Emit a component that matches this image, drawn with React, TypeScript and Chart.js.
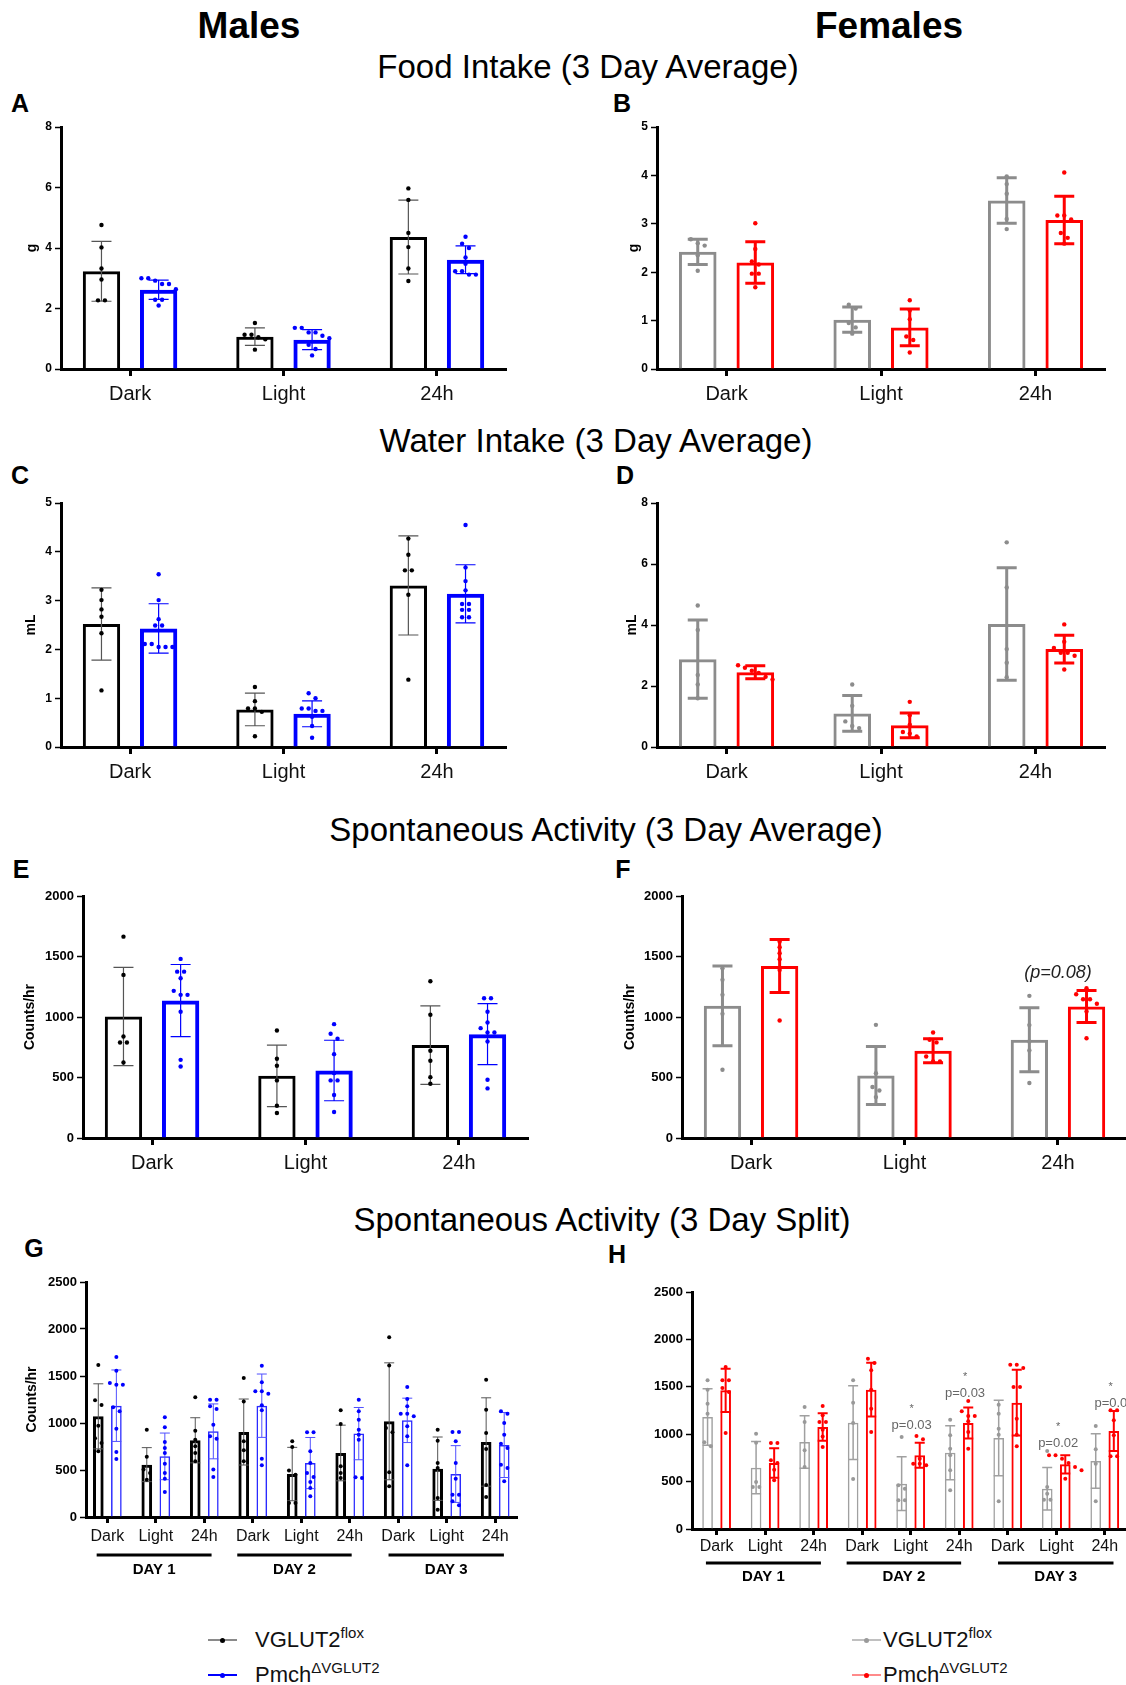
import React, { useEffect, useRef } from "react";
import { Chart, registerables } from "chart.js";
Chart.register(...registerables);

const FONT = "'Liberation Sans', Arial, sans-serif";
Chart.defaults.font.family = FONT;
Chart.defaults.color = "#000";

// ---------- categories ----------
const avgCategories = ["Dark", "Light", "24h"];
const splitCategories = ["Dark", "Light", "24h", "Dark", "Light", "24h", "Dark", "Light", "24h"];
const dayLabels = ["DAY 1", "DAY 2", "DAY 3"];

// ---------- A: food intake, males (g) ----------
const foodMaleFloxMean = [3.23, 1.07, 4.36];
const foodMaleFloxSD = [0.99, 0.29, 1.22];
const foodMaleFloxPoints = [
  [4.76, 4.02, 3.32, 2.96, 2.27, 2.27],
  [1.52, 1.13, 1.13, 1.05, 0.98, 0.64],
  [5.97, 5.59, 4.5, 4.03, 3.32, 2.91],
];
const foodMaleKoMean = [2.62, 0.97, 3.61];
const foodMaleKoSD = [0.32, 0.33, 0.46];
const foodMaleKoPoints = [
  [3.0, 3.0, 2.92, 2.81, 2.81, 2.64, 2.29, 2.29, 2.1],
  [1.36, 1.36, 1.21, 1.21, 1.1, 1.02, 0.8, 0.66, 0.45],
  [4.37, 4.14, 4.0, 3.69, 3.48, 3.23, 3.23, 3.12, 3.12],
];

// ---------- B: food intake, females (g) ----------
const foodFemFloxMean = [2.42, 1.02, 3.48];
const foodFemFloxSD = [0.26, 0.26, 0.47];
const foodFemFloxPoints = [
  [2.68, 2.6, 2.55, 2.35, 2.03],
  [1.33, 1.25, 0.95, 0.86, 0.73],
  [3.98, 3.82, 3.62, 3.1, 2.89],
];
const foodFemKoMean = [2.2, 0.86, 3.08];
const foodFemKoSD = [0.43, 0.38, 0.49];
const foodFemKoPoints = [
  [3.01, 2.48, 2.22, 2.16, 1.97, 1.97, 1.69],
  [1.42, 1.21, 1.03, 0.67, 0.6, 0.34],
  [4.06, 3.17, 3.17, 3.09, 2.81, 2.71, 2.59],
];

// ---------- C: water intake, males (mL) ----------
const waterMaleFloxMean = [2.52, 0.77, 3.31];
const waterMaleFloxSD = [0.74, 0.335, 1.015];
const waterMaleFloxPoints = [
  [3.22, 3.01, 2.82, 2.67, 2.33, 1.16],
  [1.23, 0.94, 0.79, 0.79, 0.72, 0.22],
  [4.27, 3.94, 3.62, 3.62, 3.12, 1.38],
];
const waterMaleKoMean = [2.43, 0.68, 3.14];
const waterMaleKoSD = [0.505, 0.265, 0.595];
const waterMaleKoPoints = [
  [3.54, 3.01, 2.62, 2.49, 2.49, 2.11, 2.11, 2.05, 2.05, 2.05],
  [1.1, 1.0, 0.79, 0.79, 0.74, 0.74, 0.62, 0.43, 0.19],
  [4.55, 3.68, 3.4, 3.21, 2.93, 2.93, 2.81, 2.81, 2.66, 2.66],
];

// ---------- D: water intake, females (mL) ----------
const waterFemFloxMean = [2.88, 1.1, 4.03];
const waterFemFloxSD = [1.285, 0.585, 1.845];
const waterFemFloxPoints = [
  [4.64, 3.84, 2.36, 2.05, 1.6],
  [2.05, 1.35, 0.84, 0.69, 0.62],
  [6.71, 5.23, 3.21, 2.76, 2.29],
];
const waterFemKoMean = [2.45, 0.71, 3.21];
const waterFemKoSD = [0.215, 0.405, 0.455];
const waterFemKoPoints = [
  [2.68, 2.6, 2.5, 2.43, 2.3, 2.21],
  [1.48, 1.04, 0.73, 0.49, 0.44, 0.35],
  [4.02, 3.45, 3.25, 3.09, 3.09, 2.99, 2.54],
];

// ---------- E: activity avg, males (counts/hr) ----------
const actMaleFloxMean = [1004, 514, 768];
const actMaleFloxSD = [406, 254, 324];
const actMaleFloxPoints = [
  [1664, 1348, 839, 789, 789, 624],
  [889, 655, 597, 476, 267, 206],
  [1296, 1018, 721, 638, 503, 448],
];
const actMaleKoMean = [1136, 558, 858];
const actMaleKoSD = [298, 250, 252];
const actMaleKoPoints = [
  [1480, 1375, 1375, 1320, 1216, 1183, 1183, 1043, 646, 591],
  [941, 861, 820, 693, 536, 476, 476, 355, 215],
  [1155, 1155, 1043, 955, 908, 872, 872, 798, 481, 410],
];

// ---------- F: activity avg, females ----------
const actFemFloxMean = [1092, 517, 812];
const actFemFloxSD = [330, 240, 264];
const actFemFloxPoints = [
  [1403, 1307, 1183, 1026, 564],
  [935, 536, 421, 393, 338],
  [1175, 933, 798, 724, 454],
];
const actFemKoMean = [1422, 721, 1087];
const actFemKoSD = [219, 99, 132];
const actFemKoPoints = [
  [1623, 1576, 1527, 1477, 1389, 971],
  [872, 812, 790, 674, 633, 633],
  [1238, 1188, 1147, 1147, 1109, 1045, 825],
];

// ---------- G: activity split, males ----------
const splitMaleFloxMean = [1071, 557, 816, 904, 457, 681, 1018, 514, 798];
const splitMaleFloxSD = [346, 181, 240, 351, 284, 296, 622, 337, 470];
const splitMaleFloxPoints = [
  [1617, 1241, 1191, 972, 837, 787, 699],
  [929, 642, 504, 468, 397],
  [1273, 918, 823, 752, 681, 592],
  [1479, 1230, 805, 709, 592],
  [805, 745, 496, 450, 149, 149],
  [1135, 989, 539, 468, 415],
  [1911, 1613, 947, 901, 475, 326],
  [929, 812, 574, 521, 202, 78],
  [1461, 1142, 894, 723, 340, 213],
];
const splitMaleKoMean = [1184, 645, 911, 1184, 574, 887, 1028, 457, 766];
const splitMaleKoSD = [380, 248, 292, 337, 272, 278, 236, 302, 346];
const splitMaleKoPoints = [
  [1702, 1557, 1425, 1408, 1408, 1167, 1124, 940, 691, 617],
  [1060, 954, 798, 734, 681, 567, 468, 408, 266],
  [1248, 1248, 1177, 1149, 982, 858, 833, 504, 426],
  [1610, 1433, 1337, 1337, 1312, 1190, 1135, 621, 550],
  [901, 901, 700, 574, 468, 426, 372, 308, 220],
  [1248, 1124, 1035, 929, 876, 823, 422, 415],
  [1383, 1255, 1177, 1099, 1099, 1071, 965, 858, 550],
  [904, 904, 805, 574, 408, 238, 238, 167, 124],
  [1124, 1099, 1000, 876, 780, 734, 557, 521, 379],
];

// ---------- H: activity split, females ----------
const splitFemFloxMean = [1181, 647, 918, 1122, 478, 805, 960, 425, 717];
const splitFemFloxSD = [298, 276, 276, 390, 283, 285, 398, 224, 288];
const splitFemFloxPoints = [
  [1568, 1470, 1322, 1217, 914, 872],
  [1006, 911, 496, 443, 443],
  [1287, 1129, 830, 654],
  [1568, 1333, 1118, 527],
  [970, 461, 425, 302, 302],
  [1153, 988, 847, 777, 619, 408],
  [1311, 1217, 1058, 995, 292],
  [823, 443, 373, 309, 309],
  [1086, 840, 689, 292],
];
const splitFemKoMean = [1463, 696, 1076, 1470, 777, 1118, 1333, 682, 1034];
const splitFemKoSD = [228, 156, 144, 284, 132, 164, 346, 96, 211];
const splitFemKoPoints = [
  [1709, 1568, 1568, 1487, 1445, 1013],
  [907, 907, 724, 696, 626, 513],
  [1297, 1199, 1129, 1129, 1048, 977, 865],
  [1797, 1751, 1674, 1470, 1269, 1023],
  [981, 946, 742, 689, 689, 672],
  [1350, 1241, 1192, 1192, 1136, 1023, 847],
  [1733, 1733, 1698, 1498, 1498, 1164, 995, 872],
  [777, 777, 742, 696, 654, 619, 531],
  [1252, 1252, 1146, 988, 767, 767],
];

// annotations (category index, value at which text sits, text)
const fAnnotations = [{ cat: 2, value: 1367, text: "(p=0.08)", italic: true, size: 18, color: "#222", dx: 0 }];
const hAnnotations = [
  { cat: 4, value: 1263, text: "*", size: 11, color: "#666", dx: 0.02 },
  { cat: 4, value: 1094, text: "p=0.03", size: 13, color: "#666", dx: 0.02 },
  { cat: 5, value: 1600, text: "*", size: 11, color: "#666", dx: 0.12 },
  { cat: 5, value: 1432, text: "p=0.03", size: 13, color: "#666", dx: 0.12 },
  { cat: 7, value: 1073, text: "*", size: 11, color: "#666", dx: 0.04 },
  { cat: 7, value: 904, text: "p=0.02", size: 13, color: "#666", dx: 0.04 },
  { cat: 8, value: 1495, text: "*", size: 11, color: "#666", dx: 0.12 },
  { cat: 8, value: 1326, text: "p=0.01", size: 13, color: "#666", dx: 0.2 },
];
const daySpans = [
  [-0.22, 2.15],
  [2.68, 5.04],
  [5.8, 8.18],
];

// ---------- styles ----------
type Style = { border: string; bw: number; err: string; ew: number; cap: number; pt: string; r: number };
const maleCtrlAvg: Style = { border: "#000", bw: 3, err: "#555", ew: 1.2, cap: 10, pt: "#000", r: 2.2 };
const maleKoAvg: Style = { border: "#0000ff", bw: 4, err: "#0000ff", ew: 1.2, cap: 10, pt: "#0000ff", r: 2.2 };
const femCtrlAvg: Style = { border: "#8c8c8c", bw: 3, err: "#8c8c8c", ew: 3, cap: 10, pt: "#8c8c8c", r: 2.2 };
const femKoAvg: Style = { border: "#ff0000", bw: 3, err: "#ff0000", ew: 3, cap: 10, pt: "#ff0000", r: 2.2 };
const maleCtrlSplit: Style = { border: "#000", bw: 3, err: "#555", ew: 1, cap: 5, pt: "#000", r: 2 };
const maleKoSplit: Style = { border: "#2a2aff", bw: 1.5, err: "#5050ff", ew: 1, cap: 5, pt: "#0000ff", r: 2 };
const femCtrlSplit: Style = { border: "#a0a0a0", bw: 1.5, err: "#a0a0a0", ew: 1.5, cap: 5, pt: "#999", r: 2 };
const femKoSplit: Style = { border: "#ff0000", bw: 2, err: "#ff0000", ew: 2, cap: 5, pt: "#ff0000", r: 2 };

type Series = { mean: number[]; sd: number[]; points: number[][]; style: Style };
type Panel = {
  axisX: number; right: number; top: number; bottom: number;
  yMax: number; yStep: number; yTitle?: string; titleX?: number; yW: number; xH: number;
  categories: string[]; xMin: number; xMax: number; catPct: number; barPct: number;
  xFont: number; xPad: number; xTickLen: number; yFont: number;
  series: Series[];
  days?: boolean; dayLineOff?: number; dayLabelOff?: number;
  annotations?: any[];
};

const PAD_T = 12;
const PAD_R = 10;

const avgBase = { yW: 60, xH: 45, xMin: -0.45, xMax: 2.45, catPct: 0.745, barPct: 0.653, xFont: 20, xPad: 6, xTickLen: 7, yFont: 12 };
const splitBase = { yW: 75, xH: 75, catPct: 0.745, barPct: 0.59, xFont: 16, xTickLen: 6, yFont: 13, days: true };

const panels: Record<string, Panel> = {
  A: { ...avgBase, axisX: 61, right: 506, top: 127, bottom: 369, yMax: 8, yStep: 2, yTitle: "g", titleX: 32, categories: avgCategories,
    series: [
      { mean: foodMaleFloxMean, sd: foodMaleFloxSD, points: foodMaleFloxPoints, style: maleCtrlAvg },
      { mean: foodMaleKoMean, sd: foodMaleKoSD, points: foodMaleKoPoints, style: maleKoAvg },
    ] },
  B: { ...avgBase, axisX: 657, right: 1105, top: 127, bottom: 369, yMax: 5, yStep: 1, yTitle: "g", titleX: 634, categories: avgCategories,
    series: [
      { mean: foodFemFloxMean, sd: foodFemFloxSD, points: foodFemFloxPoints, style: femCtrlAvg },
      { mean: foodFemKoMean, sd: foodFemKoSD, points: foodFemKoPoints, style: femKoAvg },
    ] },
  C: { ...avgBase, axisX: 61, right: 506, top: 503, bottom: 747, yMax: 5, yStep: 1, yTitle: "mL", titleX: 31, categories: avgCategories,
    series: [
      { mean: waterMaleFloxMean, sd: waterMaleFloxSD, points: waterMaleFloxPoints, style: maleCtrlAvg },
      { mean: waterMaleKoMean, sd: waterMaleKoSD, points: waterMaleKoPoints, style: maleKoAvg },
    ] },
  D: { ...avgBase, axisX: 657, right: 1105, top: 503, bottom: 747, yMax: 8, yStep: 2, yTitle: "mL", titleX: 632, categories: avgCategories,
    series: [
      { mean: waterFemFloxMean, sd: waterFemFloxSD, points: waterFemFloxPoints, style: femCtrlAvg },
      { mean: waterFemKoMean, sd: waterFemKoSD, points: waterFemKoPoints, style: femKoAvg },
    ] },
  E: { ...avgBase, yW: 75, yFont: 13, axisX: 83, right: 528, top: 896, bottom: 1138, yMax: 2000, yStep: 500, yTitle: "Counts/hr", titleX: 30, categories: avgCategories,
    series: [
      { mean: actMaleFloxMean, sd: actMaleFloxSD, points: actMaleFloxPoints, style: maleCtrlAvg },
      { mean: actMaleKoMean, sd: actMaleKoSD, points: actMaleKoPoints, style: maleKoAvg },
    ] },
  F: { ...avgBase, yW: 75, yFont: 13, axisX: 682, right: 1127, top: 896, bottom: 1138, yMax: 2000, yStep: 500, yTitle: "Counts/hr", titleX: 630, categories: avgCategories,
    annotations: fAnnotations,
    series: [
      { mean: actFemFloxMean, sd: actFemFloxSD, points: actFemFloxPoints, style: femCtrlAvg },
      { mean: actFemKoMean, sd: actFemKoSD, points: actFemKoPoints, style: femKoAvg },
    ] },
  G: { ...splitBase, axisX: 86, right: 517, top: 1282, bottom: 1517, yMax: 2500, yStep: 500, yTitle: "Counts/hr", titleX: 32,
    categories: splitCategories, xMin: -0.44, xMax: 8.45, xPad: 4, dayLineOff: 38, dayLabelOff: 53,
    series: [
      { mean: splitMaleFloxMean, sd: splitMaleFloxSD, points: splitMaleFloxPoints, style: maleCtrlSplit },
      { mean: splitMaleKoMean, sd: splitMaleKoSD, points: splitMaleKoPoints, style: maleKoSplit },
    ] },
  H: { ...splitBase, axisX: 692, right: 1130, top: 1292, bottom: 1529, yMax: 2500, yStep: 500,
    categories: splitCategories, xMin: -0.507, xMax: 8.52, xPad: 2, dayLineOff: 34, dayLabelOff: 48,
    annotations: hAnnotations,
    series: [
      { mean: splitFemFloxMean, sd: splitFemFloxSD, points: splitFemFloxPoints, style: femCtrlSplit },
      { mean: splitFemKoMean, sd: splitFemKoSD, points: splitFemKoPoints, style: femKoSplit },
    ] },
};

function geom(p: Panel) {
  const left = p.axisX - p.yW;
  const top = p.top - PAD_T;
  const w = p.right + PAD_R - left;
  const h = PAD_T + (p.bottom - p.top) + p.xH;
  return { left, top, w, h };
}

function overlayPlugin(p: Panel) {
  return {
    id: "overlay",
    afterDatasetsDraw(chart: any) {
      const ctx = chart.ctx;
      const ys = chart.scales.y;
      p.series.forEach((s, di) => {
        const meta = chart.getDatasetMeta(di);
        meta.data.forEach((bar: any, j: number) => {
          const bx = bar.x;
          const st = s.style;
          const yt = ys.getPixelForValue(s.mean[j] + s.sd[j]);
          const yb = ys.getPixelForValue(Math.max(0, s.mean[j] - s.sd[j]));
          ctx.save();
          ctx.strokeStyle = st.err;
          ctx.lineWidth = st.ew;
          ctx.beginPath();
          ctx.moveTo(bx, yt);
          ctx.lineTo(bx, yb);
          ctx.moveTo(bx - st.cap, yt);
          ctx.lineTo(bx + st.cap, yt);
          ctx.moveTo(bx - st.cap, yb);
          ctx.lineTo(bx + st.cap, yb);
          ctx.stroke();
          // points, spread sideways when they overlap
          const pts = (s.points[j] || []).map((v) => ys.getPixelForValue(v)).sort((a: number, b: number) => a - b);
          const thr = st.r * 2 + 0.8;
          const sep = st.r * 2 + 2.5;
          let cluster: number[] = [];
          const flush = () => {
            const n = cluster.length;
            cluster.forEach((py, k) => {
              const px = bx + (k - (n - 1) / 2) * sep;
              ctx.fillStyle = st.pt;
              ctx.beginPath();
              ctx.arc(px, py, st.r, 0, Math.PI * 2);
              ctx.fill();
            });
            cluster = [];
          };
          pts.forEach((py: number) => {
            if (cluster.length && py - cluster[cluster.length - 1] > thr) flush();
            cluster.push(py);
          });
          flush();
          ctx.restore();
        });
      });
    },
    afterDraw(chart: any) {
      const ctx = chart.ctx;
      const xs = chart.scales.x;
      const ys = chart.scales.y;
      const base = chart.chartArea.bottom;
      ctx.save();
      if (p.days) {
        daySpans.forEach((d, i) => {
          const x1 = xs.getPixelForValue(d[0]);
          const x2 = xs.getPixelForValue(d[1]);
          ctx.strokeStyle = "#000";
          ctx.lineWidth = 3;
          ctx.beginPath();
          ctx.moveTo(x1, base + (p.dayLineOff || 0));
          ctx.lineTo(x2, base + (p.dayLineOff || 0));
          ctx.stroke();
          ctx.fillStyle = "#000";
          ctx.font = `bold 15px ${FONT}`;
          ctx.textAlign = "center";
          ctx.textBaseline = "middle";
          ctx.fillText(dayLabels[i], (x1 + x2) / 2, base + (p.dayLabelOff || 0));
        });
      }
      (p.annotations || []).forEach((a: any) => {
        ctx.fillStyle = a.color;
        ctx.font = `${a.italic ? "italic " : ""}${a.size}px ${FONT}`;
        ctx.textAlign = "center";
        ctx.textBaseline = "middle";
        ctx.fillText(a.text, xs.getPixelForValue(a.cat + a.dx), ys.getPixelForValue(a.value));
      });
      ctx.restore();
    },
  };
}

function PanelChart({ p }: { p: Panel }) {
  const ref = useRef<HTMLCanvasElement>(null);
  const g = geom(p);
  useEffect(() => {
    const titleFont = 14;
    const pt = p.titleX !== undefined ? p.titleX - g.left - (titleFont * 1.2) / 2 : 0;
    const chart = new Chart(ref.current as HTMLCanvasElement, {
      type: "bar",
      data: {
        datasets: p.series.map((s) => ({
          data: s.mean.map((m, i) => ({ x: i, y: m })),
          backgroundColor: "rgba(0,0,0,0)",
          borderColor: s.style.border,
          borderWidth: s.style.bw,
          categoryPercentage: p.catPct,
          barPercentage: p.barPct,
        })),
      } as any,
      options: {
        responsive: false,
        animation: false,
        devicePixelRatio: 1,
        events: [],
        layout: { padding: { left: 0, top: PAD_T, right: PAD_R, bottom: 0 } },
        plugins: { legend: { display: false }, tooltip: { enabled: false }, title: { display: false } },
        scales: {
          x: {
            type: "linear",
            bounds: "data",
            min: p.xMin,
            max: p.xMax,
            offset: false,
            afterBuildTicks: (axis: any) => {
              axis.ticks = p.categories.map((_, i) => ({ value: i }));
            },
            afterFit: (axis: any) => {
              axis.height = p.xH;
            },
            grid: { display: true, offset: false, drawOnChartArea: false, drawTicks: true, tickLength: p.xTickLen, tickWidth: 3, tickColor: "#000", color: "#000" },
            border: { display: true, color: "#000", width: 3 },
            ticks: {
              autoSkip: false,
              maxRotation: 0,
              minRotation: 0,
              padding: p.xPad,
              color: "#111",
              font: { size: p.xFont },
              callback: (v: any) => p.categories[Math.round(Number(v))] ?? "",
            },
          },
          y: {
            type: "linear",
            min: 0,
            max: p.yMax,
            afterFit: (axis: any) => {
              axis.width = p.yW;
            },
            grid: { display: true, drawOnChartArea: false, drawTicks: true, tickLength: 6, tickWidth: 1.5, tickColor: "#000", color: "#000" },
            border: { display: true, color: "#000", width: 3 },
            ticks: {
              stepSize: p.yStep,
              padding: 3,
              color: "#000",
              font: { size: p.yFont, weight: "bold" },
              callback: (v: any) => String(v),
            },
            title: p.yTitle
              ? { display: true, text: p.yTitle, color: "#000", font: { size: titleFont, weight: "bold" }, padding: { top: pt, bottom: 0 } }
              : { display: false },
          },
        },
      } as any,
      plugins: [overlayPlugin(p)] as any,
    });
    return () => chart.destroy();
  }, []);
  return (
    <canvas
      ref={ref}
      width={g.w}
      height={g.h}
      style={{ position: "absolute", left: g.left, top: g.top, width: g.w, height: g.h }}
    />
  );
}

// ---------- page texts ----------
const headers = [
  { text: "Males", x: 249, y: 25, size: 37, bold: true },
  { text: "Females", x: 889, y: 25, size: 37, bold: true },
  { text: "Food Intake (3 Day Average)", x: 588, y: 66, size: 33, bold: false },
  { text: "Water Intake (3 Day Average)", x: 596, y: 440, size: 33, bold: false },
  { text: "Spontaneous Activity (3 Day Average)", x: 606, y: 829, size: 33, bold: false },
  { text: "Spontaneous Activity (3 Day Split)", x: 602, y: 1219, size: 33, bold: false },
];
const panelLetters = [
  { text: "A", x: 20, y: 103 },
  { text: "B", x: 622, y: 103 },
  { text: "C", x: 20, y: 475 },
  { text: "D", x: 625, y: 475 },
  { text: "E", x: 21, y: 869 },
  { text: "F", x: 623, y: 869 },
  { text: "G", x: 34, y: 1248 },
  { text: "H", x: 617, y: 1254 },
];
const legendNames = ["VGLUT2", "Pmch"];
const legendSups = ["flox", "ΔVGLUT2"];
const legendGroups = [
  { lineX: 208, textX: 255, lines: ["#8a8a8a", "#0000ff"], dots: ["#000", "#0000ff"] },
  { lineX: 852, textX: 883, lines: ["#c0c0c0", "#ff8a8a"], dots: ["#9a9a9a", "#ff0000"] },
];
const legendRowsY = [1640, 1675];

export default function App() {
  return (
    <div style={{ position: "absolute", left: 0, top: 0, width: 1126, height: 1685, overflow: "hidden", background: "#fff", fontFamily: FONT, color: "#000" }}>
      {headers.map((h, i) => (
        <div key={"h" + i} style={{ position: "absolute", left: h.x, top: h.y, transform: "translate(-50%,-50%)", fontSize: h.size, fontWeight: h.bold ? "bold" : "normal", whiteSpace: "nowrap", lineHeight: 1 }}>
          {h.text}
        </div>
      ))}
      {panelLetters.map((l, i) => (
        <div key={"l" + i} style={{ position: "absolute", left: l.x, top: l.y, transform: "translate(-50%,-50%)", fontSize: 25, fontWeight: "bold", lineHeight: 1 }}>
          {l.text}
        </div>
      ))}
      {Object.keys(panels).map((k) => (
        <PanelChart key={k} p={panels[k]} />
      ))}
      {legendGroups.map((g, gi) =>
        legendRowsY.map((y, ri) => (
          <React.Fragment key={"lg" + gi + "-" + ri}>
            <div style={{ position: "absolute", left: g.lineX, top: y - 1, width: 29, height: 2, background: g.lines[ri] }} />
            <div style={{ position: "absolute", left: g.lineX + 12, top: y - 2.5, width: 5, height: 5, borderRadius: 3, background: g.dots[ri] }} />
            <div style={{ position: "absolute", left: g.textX, top: y, transform: "translateY(-50%)", fontSize: 22, whiteSpace: "nowrap", lineHeight: 1, color: "#111" }}>
              {legendNames[ri]}
              <span style={{ fontSize: 15, position: "relative", top: -9 }}>{legendSups[ri]}</span>
            </div>
          </React.Fragment>
        ))
      )}
    </div>
  );
}
